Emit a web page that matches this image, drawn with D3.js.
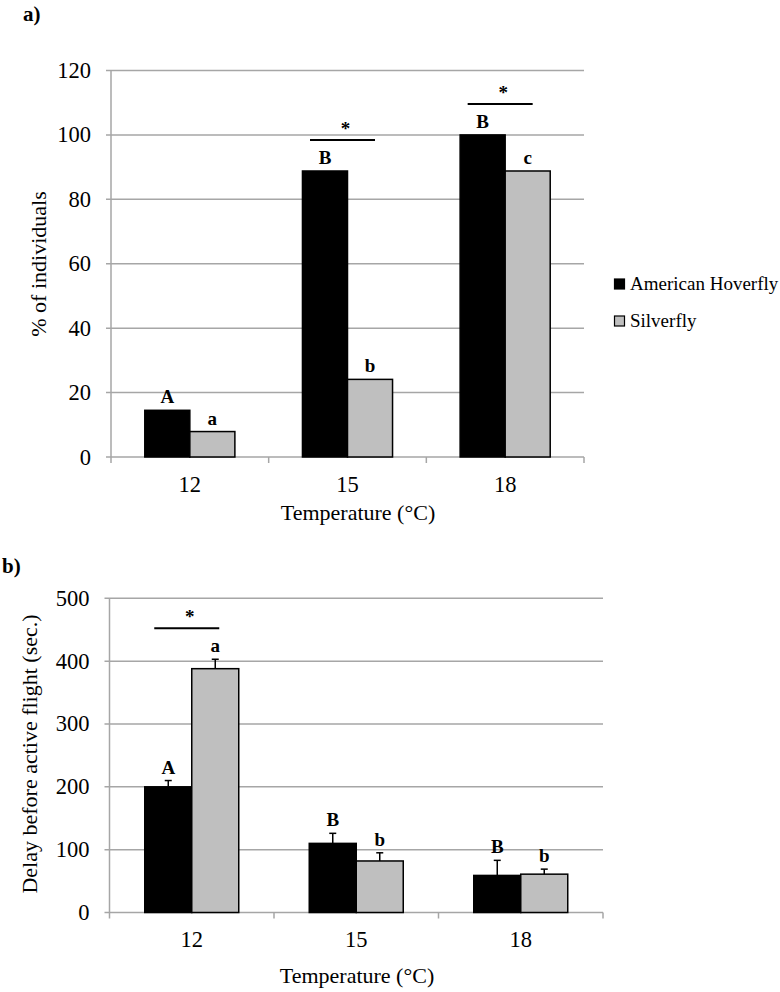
<!DOCTYPE html>
<html><head><meta charset="utf-8">
<script src="https://cdn.jsdelivr.net/npm/d3@7"></script>
<style>
html,body{margin:0;padding:0;background:#fff;}
svg{display:block;font-family:"Liberation Serif","Times New Roman",serif;}
</style></head>
<body>
<svg id="chart" width="780" height="992"></svg>
<script>
// ---- data ----
const categories = ["12", "15", "18"];
const seriesNames = ["American Hoverfly", "Silverfly"];
const seriesColors = ["#000000", "#bfbfbf"];

// panel a: % of individuals
const pctHoverfly = [14.5, 88.8, 100];
const pctSilverfly = [7.9, 24.1, 88.8];
const lettersAHoverfly = ["A", "B", "B"];
const lettersASilverfly = ["a", "b", "c"];
const sigA = [false, true, true];
const ticksA = [0, 20, 40, 60, 80, 100, 120];

// panel b: delay before active flight (sec.)
const delayHoverfly = [200, 110, 59];
const delayHoverflyErr = [10, 16, 24];
const delaySilverfly = [388, 82, 61];
const delaySilverflyErr = [15, 13, 8];
const lettersBHoverfly = ["A", "B", "B"];
const lettersBSilverfly = ["a", "b", "b"];
const sigB = [true, false, false];
const ticksB = [0, 100, 200, 300, 400, 500];

const svg = d3.select("#chart");
const gridColor = "#a6a6a6";

function panel(cfg) {
  const g = svg.append("g");
  const x = d3.scaleBand().domain(categories).range([cfg.x0, cfg.x1]);
  const bw = x.bandwidth();
  const xs = d3.scaleBand().domain(seriesNames).range([bw * 0.2143, bw * 0.7857]);
  const y = d3.scaleLinear().domain([0, cfg.max]).range([cfg.y0, cfg.yTop]);

  // gridlines
  g.selectAll("line.grid").data(cfg.ticks).enter().append("line")
    .attr("x1", cfg.x0 - 5).attr("x2", cfg.x1)
    .attr("y1", d => y(d)).attr("y2", d => y(d))
    .attr("stroke", gridColor).attr("stroke-width", 1.5);
  // y axis line
  g.append("line").attr("x1", cfg.x0).attr("x2", cfg.x0)
    .attr("y1", y(cfg.max)).attr("y2", y(0))
    .attr("stroke", gridColor).attr("stroke-width", 1.5);
  // category boundary ticks
  const bounds = categories.map(c => x(c)).concat([cfg.x1]);
  g.selectAll("line.ctick").data(bounds).enter().append("line")
    .attr("x1", d => d).attr("x2", d => d)
    .attr("y1", y(0)).attr("y2", y(0) + 6)
    .attr("stroke", gridColor).attr("stroke-width", 1.5);
  // y tick labels
  g.selectAll("text.ytl").data(cfg.ticks).enter().append("text")
    .attr("x", cfg.x0 - 20).attr("y", d => y(d) + 7.5)
    .attr("text-anchor", "end").attr("font-size", 22.5).text(d => d);
  // x tick labels
  g.selectAll("text.xtl").data(categories).enter().append("text")
    .attr("x", d => x(d) + bw / 2).attr("y", cfg.catY)
    .attr("text-anchor", "middle").attr("font-size", 22.5).text(d => d);
  // axis titles
  g.append("text").attr("x", cfg.xTitleX).attr("y", cfg.xTitleY)
    .attr("text-anchor", "middle").attr("font-size", 22).text("Temperature (°C)");
  g.append("text").attr("transform", `translate(${cfg.yTitleX},${cfg.yTitleY}) rotate(-90)`)
    .attr("text-anchor", "middle").attr("font-size", cfg.yTitleSize).text(cfg.yTitle);
  // panel label
  g.append("text").attr("x", cfg.labX).attr("y", cfg.labY)
    .attr("font-size", 21).attr("font-weight", "bold").text(cfg.label);

  // bars
  const rows = [];
  categories.forEach((c, i) => {
    cfg.series.forEach((s, k) => {
      rows.push({cat: c, i, name: seriesNames[k], k, v: s.vals[i],
        e: s.err ? s.err[i] : 0, letter: s.letters[i]});
    });
  });
  g.selectAll("rect.bar").data(rows).enter().append("rect")
    .attr("x", d => x(d.cat) + xs(d.name))
    .attr("width", xs.bandwidth())
    .attr("y", d => y(d.v))
    .attr("height", d => y(0) - y(d.v))
    .attr("fill", d => seriesColors[d.k])
    .attr("stroke", "#000").attr("stroke-width", 1.5);
  // error bars
  const er = rows.filter(d => d.e > 0);
  g.selectAll("line.err").data(er).enter().append("line")
    .attr("x1", d => x(d.cat) + xs(d.name) + xs.bandwidth() / 2)
    .attr("x2", d => x(d.cat) + xs(d.name) + xs.bandwidth() / 2)
    .attr("y1", d => y(d.v)).attr("y2", d => y(d.v + d.e))
    .attr("stroke", "#000").attr("stroke-width", 1.5);
  g.selectAll("line.cap").data(er).enter().append("line")
    .attr("x1", d => x(d.cat) + xs(d.name) + xs.bandwidth() / 2 - 3.5)
    .attr("x2", d => x(d.cat) + xs(d.name) + xs.bandwidth() / 2 + 3.5)
    .attr("y1", d => y(d.v + d.e)).attr("y2", d => y(d.v + d.e))
    .attr("stroke", "#000").attr("stroke-width", 1.5);
  // letters
  g.selectAll("text.let").data(rows).enter().append("text")
    .attr("x", d => x(d.cat) + xs(d.name) + xs.bandwidth() / 2)
    .attr("y", d => y(d.v + d.e) - 7)
    .attr("text-anchor", "middle").attr("font-size", 19).attr("font-weight", "bold")
    .text(d => d.letter);
  // significance
  categories.forEach((c, i) => {
    if (!cfg.sig[i]) return;
    const top = d3.min(rows.filter(r => r.i === i), r => y(r.v + r.e));
    const cx = x(c) + bw / 2 - 5;
    const ly = top - 31;
    g.append("line").attr("x1", cx - 32.5).attr("x2", cx + 32.5)
      .attr("y1", ly).attr("y2", ly).attr("stroke", "#000").attr("stroke-width", 2);
    g.append("text").attr("x", cx + 3).attr("y", ly - 5)
      .attr("text-anchor", "middle").attr("font-size", 19).attr("font-weight", "bold").text("*");
  });
}

panel({
  x0: 111, x1: 584, y0: 457, yTop: 70.5, max: 120, ticks: ticksA,
  catY: 492, xTitleX: 358, xTitleY: 520,
  yTitle: "% of individuals", yTitleX: 46, yTitleY: 264, yTitleSize: 22,
  label: "a)", labX: 23, labY: 21,
  series: [
    {vals: pctHoverfly, letters: lettersAHoverfly},
    {vals: pctSilverfly, letters: lettersASilverfly}
  ],
  sig: sigA
});

panel({
  x0: 109.5, x1: 603, y0: 912.5, yTop: 598.3, max: 500, ticks: ticksB,
  catY: 947, xTitleX: 357, xTitleY: 983,
  yTitle: "Delay before active flight (sec.)", yTitleX: 37, yTitleY: 754, yTitleSize: 22,
  label: "b)", labX: 2, labY: 573,
  series: [
    {vals: delayHoverfly, err: delayHoverflyErr, letters: lettersBHoverfly},
    {vals: delaySilverfly, err: delaySilverflyErr, letters: lettersBSilverfly}
  ],
  sig: sigB
});

// legend
const legend = svg.append("g");
seriesNames.forEach((n, k) => {
  const ly = 279 + k * 37;
  legend.append("rect").attr("x", 614.5).attr("y", ly).attr("width", 10).attr("height", 10)
    .attr("fill", seriesColors[k]).attr("stroke", "#000").attr("stroke-width", 1.2);
  legend.append("text").attr("x", 630).attr("y", ly + 11).attr("font-size", 19).text(n);
});
</script>
</body></html>
